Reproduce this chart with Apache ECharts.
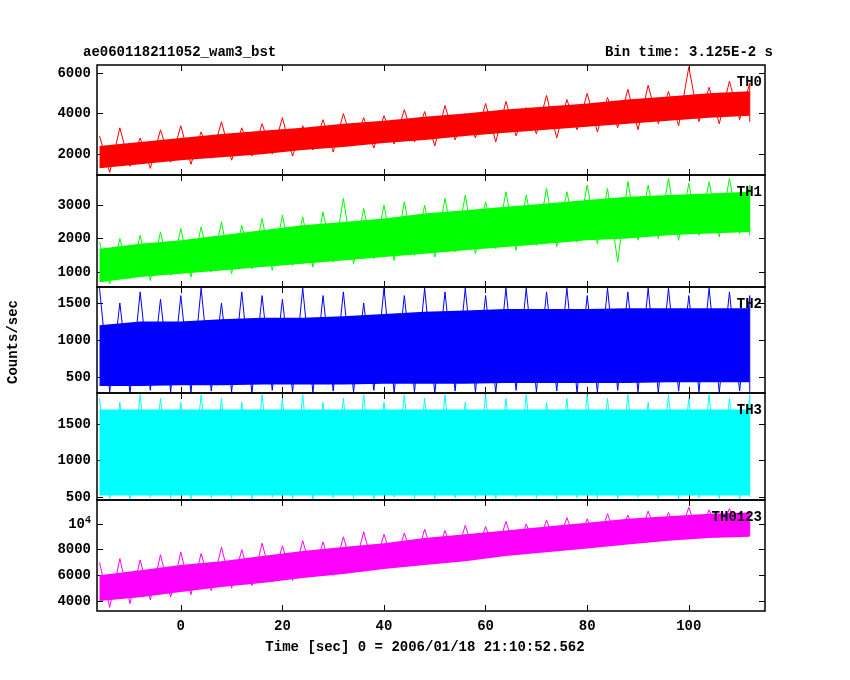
<!DOCTYPE html>
<html><head><meta charset="utf-8">
<script src="https://cdn.jsdelivr.net/npm/echarts@6/dist/echarts.min.js"></script>
<style>html,body{margin:0;padding:0;background:#fff}#c{width:850px;height:680px}</style>
</head><body><div id="c"></div>
<script>
const bandT = [-16,-8,0,8,16,24,32,40,48,56,64,72,80,88,96,104,112];
const th0Low  = [1300,1500,1700,1850,2000,2200,2350,2550,2700,2900,3050,3200,3350,3500,3650,3800,3900];
const th0High = [2400,2600,2800,3000,3150,3300,3500,3650,3850,4000,4200,4350,4500,4700,4850,5000,5100];
const th1Low  = [700,850,950,1050,1150,1250,1350,1450,1550,1650,1750,1850,1950,2000,2100,2150,2200];
const th1High = [1700,1850,1950,2100,2250,2400,2500,2600,2750,2850,2950,3050,3150,3250,3300,3350,3400];
const th2Low  = [380,380,390,390,400,400,400,410,410,410,420,420,420,420,430,430,430];
const th2High = [1200,1250,1250,1280,1300,1300,1320,1350,1380,1400,1420,1420,1420,1430,1430,1430,1430];
const th3Low  = [520,520,520,520,520,520,520,520,520,520,520,520,520,520,520,520,520];
const th3High = [1700,1700,1700,1700,1700,1700,1700,1700,1700,1700,1700,1700,1700,1700,1700,1700,1700];
const thAllLow  = [4000,4300,4700,5100,5400,5800,6100,6500,6800,7100,7500,7800,8100,8400,8700,8900,9000];
const thAllHigh = [6000,6400,6800,7100,7500,7900,8200,8500,8900,9200,9500,9800,10100,10400,10600,10800,10900];

const spikeT = [-16,-12,-8,-4,0,4,8,12,16,20,24,28,32,36,40,44,48,52,56,60,64,68,72,76,80,84,88,92,96,100,104,108,112];
const th0Up = [2900,3300,2800,3200,3400,3100,3600,3300,3500,3800,3400,3700,4000,3800,3900,4200,4100,4400,4000,4500,4600,4300,4900,4700,5000,4800,5200,5400,5100,6300,5300,5600,5500];
const th0Dn = [1100,1400,1300,1600,1500,1800,1700,1900,2000,1900,2200,2100,2400,2300,2500,2600,2400,2700,2800,2600,2900,3000,2800,3200,3100,3300,3200,3500,3400,3600,3500,3700,3600];
const th1Up = [1900,2000,2100,2200,2300,2350,2500,2400,2600,2700,2650,2800,3200,2900,3000,3100,3000,3200,3300,3100,3400,3300,3500,3400,3600,3500,3700,3600,3800,3650,3700,3800,3600];
const th1Dn = [650,800,750,900,850,1000,950,1100,1050,1200,1150,1300,1250,1400,1350,1500,1450,1600,1550,1700,1650,1800,1750,1900,1850,1300,1950,2000,1950,2100,2050,2150,2100];
const th2Up = [1700,1500,1650,1550,1600,1700,1500,1650,1600,1550,1700,1600,1650,1500,1700,1600,1700,1650,1700,1600,1700,1700,1650,1700,1600,1700,1650,1700,1700,1600,1700,1650,1600];
const th2Dn = [300,280,320,300,290,310,300,280,320,300,290,310,300,320,290,300,280,310,300,290,320,300,310,290,300,320,300,290,310,300,290,310,300];
const th3Up = [1850,1800,1900,1850,1800,1900,1850,1800,1900,1850,1900,1800,1850,1900,1800,1900,1850,1900,1800,1900,1850,1900,1800,1850,1900,1850,1900,1800,1900,1850,1900,1850,1900];
const th3Dn = [480,470,500,480,470,490,480,470,500,480,470,490,480,470,500,480,470,490,480,470,500,480,470,490,480,470,500,480,470,490,480,470,500];
const thAllUp = [7000,7300,7200,7600,7800,7700,8200,8000,8500,8300,8700,8600,9000,9400,9200,9300,9600,9500,9900,9800,10200,10000,10300,10500,10400,10800,10700,11000,10900,11300,11100,11200,11000];
const thAllDn = [3500,3800,4100,4300,4500,4800,5000,5200,5500,5600,5900,6000,6300,6400,6700,6800,7100,7200,7400,7600,7800,7900,8100,8300,8400,8600,8700,8800,8900,9000,9100,9200,9100];

const xTicks = [0,20,40,60,80,100];
const panels = [
  {name:'TH0', color:'#ff0000', low:th0Low, high:th0High, up:th0Up, dn:th0Dn, min:970, max:6400, ticks:[2000,4000,6000], top:65, h:110},
  {name:'TH1', color:'#00ff00', low:th1Low, high:th1High, up:th1Up, dn:th1Dn, min:555, max:3900, ticks:[1000,2000,3000], top:175, h:112},
  {name:'TH2', color:'#0000ff', low:th2Low, high:th2High, up:th2Up, dn:th2Dn, min:284, max:1716, ticks:[500,1000,1500], top:287, h:106},
  {name:'TH3', color:'#00ffff', low:th3Low, high:th3High, up:th3Up, dn:th3Dn, min:460, max:1925, ticks:[500,1000,1500], top:393, h:107},
  {name:'TH0123', color:'#ff00ff', low:thAllLow, high:thAllHigh, up:thAllUp, dn:thAllDn, min:3220, max:11870, ticks:[4000,6000,8000,10000], top:500, h:111}
];
const font = '"Liberation Mono","DejaVu Sans Mono",monospace';
const grid=[], xAxis=[], yAxis=[], series=[], graphic=[];
const tick = {show:true,inside:true,length:6,lineStyle:{color:'#000'}};
panels.forEach((p,i)=>{
  grid.push({left:97,right:85,top:p.top,height:p.h,show:true,borderColor:'#000',borderWidth:1.5,backgroundColor:'transparent',z:5});
  const last = i===panels.length-1;
  xAxis.push({type:'value',gridIndex:i,min:-16.5,max:115,position:'bottom',
    axisLine:{show:false,onZero:false},splitLine:{show:false},
    axisTick:Object.assign({customValues:xTicks},tick),
    axisLabel:{show:last,customValues:xTicks,color:'#000',fontFamily:font,fontWeight:'bold',fontSize:14,margin:8}});
  xAxis.push({type:'value',gridIndex:i,position:'top',min:-16.5,max:115,
    axisLine:{show:false,onZero:false},splitLine:{show:false},axisLabel:{show:false},
    axisTick:Object.assign({customValues:xTicks},tick)});
  yAxis.push({type:'value',gridIndex:i,position:'left',min:p.min,max:p.max,
    axisLine:{show:false,onZero:false},splitLine:{show:false},
    axisTick:Object.assign({customValues:p.ticks},tick),
    axisLabel:{customValues:p.ticks,color:'#000',fontFamily:font,fontWeight:'bold',fontSize:14,margin:6,
      formatter:v=>v===10000?'10{s|4}':String(v),
      rich:{s:{fontSize:10,fontFamily:font,fontWeight:'bold',verticalAlign:'top',padding:[0,0,8,0]}}}});
  yAxis.push({type:'value',gridIndex:i,position:'right',min:p.min,max:p.max,
    axisLine:{show:false,onZero:false},splitLine:{show:false},axisLabel:{show:false},
    axisTick:Object.assign({customValues:p.ticks},tick)});
  const xi=2*i, yi=2*i;
  series.push({type:'custom',xAxisIndex:xi,yAxisIndex:yi,silent:true,data:[[0,0]],
    renderItem:(params,api)=>{
      const pts=[];
      bandT.forEach((t,k)=>pts.push(api.coord([t,p.high[k]])));
      for(let k=bandT.length-1;k>=0;k--) pts.push(api.coord([bandT[k],p.low[k]]));
      return {type:'polygon',shape:{points:pts},style:{fill:p.color}};
    }});
  const zz=[];
  spikeT.forEach((t,k)=>{zz.push([t,p.up[k]]); zz.push([Math.min(t+2,112),p.dn[k]]);});
  series.push({type:'line',xAxisIndex:xi,yAxisIndex:yi,symbol:'none',silent:true,clip:true,
    lineStyle:{width:1,color:p.color},data:zz});
  graphic.push({type:'text',right:88,top:p.top+10,z:10,style:{text:p.name,fill:'#000',font:'bold 14px '+font}});
});
graphic.push({type:'text',left:83,top:45,style:{text:'ae060118211052_wam3_bst',fill:'#000',font:'bold 14px '+font}});
graphic.push({type:'text',right:77,top:45,style:{text:'Bin time: 3.125E-2 s',fill:'#000',font:'bold 14px '+font}});
graphic.push({type:'text',left:'center',top:640,style:{text:'Time [sec] 0 = 2006/01/18 21:10:52.562',fill:'#000',font:'bold 14px '+font}});
graphic.push({type:'text',left:6,top:300,rotation:Math.PI/2,style:{text:'Counts/sec',fill:'#000',font:'bold 14px '+font}});
const chart = echarts.init(document.getElementById('c'));
chart.setOption({animation:false,backgroundColor:'#fff',grid,xAxis,yAxis,series,graphic});
</script></body></html>
